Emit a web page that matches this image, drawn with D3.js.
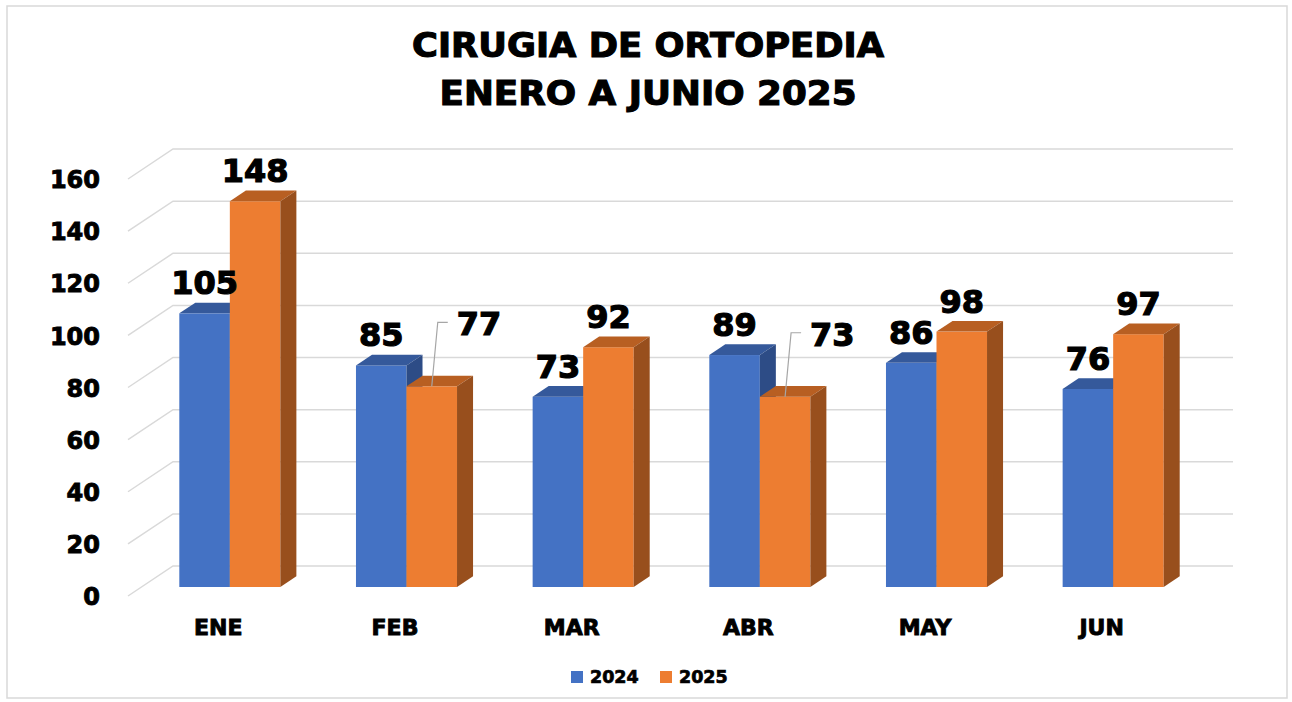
<!DOCTYPE html>
<html>
<head>
<meta charset="utf-8">
<script src="https://cdn.jsdelivr.net/npm/d3@7"></script>
<style>
  body { margin: 0; background: #fff; }
  text { font-family: 'DejaVu Sans', sans-serif; font-weight: bold; fill: #000; }
</style>
</head>
<body>
<div id="chart"></div>
<script>
var months = ['ENE', 'FEB', 'MAR', 'ABR', 'MAY', 'JUN'];
var series = ['2024', '2025'];
var values2024 = [105, 85, 73, 89, 86, 76];
var values2025 = [148, 77, 92, 73, 98, 97];
var yTicks = [0, 20, 40, 60, 80, 100, 120, 140, 160];
var titleLines = ['CIRUGIA DE ORTOPEDIA', 'ENERO A JUNIO 2025'];

var width = 1292, height = 702;
var colors = {
  '2024': { front: '#4472c4', top: '#35599b', side: '#2d4c86' },
  '2025': { front: '#ed7d31', top: '#b85f22', side: '#984f1d' }
};

// 3D depth: full floor depth offset, bar front/back depth fractions
var depthX = 45, depthY = -30;
var barT0 = 0.3, barT1 = 0.656;

var svg = d3.select('#chart').append('svg')
  .attr('width', width).attr('height', height);

svg.append('rect')
  .attr('x', 7).attr('y', 6).attr('width', 1280).attr('height', 692)
  .attr('fill', '#fff').attr('stroke', '#d9d9d9').attr('stroke-width', 1.5);

// title
svg.selectAll('.title').data(titleLines).enter().append('text')
  .attr('class', 'title')
  .attr('x', 648).attr('y', function(d, i) { return 57 + i * 48; })
  .attr('text-anchor', 'middle')
  .attr('font-size', 33)
  .attr('textLength', function(d, i) { return i === 0 ? 472 : 417; })
  .attr('lengthAdjust', 'spacingAndGlyphs')
  .style('stroke', '#000').style('stroke-width', 1.1)
  .text(function(d) { return d; });

// scales (front plane of the floor)
var x = d3.scaleBand().domain(months).range([128, 1188]).paddingInner(0.428).paddingOuter(0.214);
var xs = d3.scaleBand().domain(series).range([0, x.bandwidth()]);
// back wall
var yBack = d3.scaleLinear().domain([0, 160]).range([566, 149]);

function px(xf, t) { return xf + depthX * t; }
function py(yf, t) { return yf + depthY * t; }
function yFront(v) { return yBack(v) - depthY; }

// gridlines
var grid = svg.append('g');
yTicks.forEach(function(v) {
  var yf = yFront(v);
  grid.append('path')
    .attr('d', 'M128,' + yf + 'L' + (128 + depthX) + ',' + yBack(v) + 'H1233')
    .attr('fill', 'none').attr('stroke', '#d9d9d9').attr('stroke-width', 1.5);
});

// y axis labels
var yAxis = d3.axisLeft(d3.scaleLinear().domain([0, 160]).range([yFront(0), yFront(160)]))
  .tickValues(yTicks).tickSize(0).tickPadding(0);
var ya = svg.append('g').attr('transform', 'translate(100,0)').call(yAxis);
ya.select('.domain').remove();
ya.selectAll('text')
  .attr('font-size', 24).attr('font-family', 'DejaVu Sans').attr('font-weight', 'bold')
  .attr('dy', '0.36em')
  .style('stroke', '#000').style('stroke-width', 0.9);

// x axis labels
svg.selectAll('.xlab').data(months).enter().append('text')
  .attr('class', 'xlab')
  .attr('x', function(d) { return x(d) + x.bandwidth() / 2 + 2; })
  .attr('y', 635)
  .attr('text-anchor', 'middle').attr('font-size', 22)
  .style('stroke', '#000').style('stroke-width', 0.9)
  .text(function(d) { return d; });

// bars
var data = [];
months.forEach(function(m, i) {
  data.push({ month: m, s: '2024', v: values2024[i] });
  data.push({ month: m, s: '2025', v: values2025[i] });
});

var bars = svg.append('g');
data.forEach(function(d) {
  var x0 = x(d.month) + xs(d.s);
  var x1 = x0 + xs.bandwidth();
  var ybase = yFront(0), ytop = yFront(d.v);
  var c = colors[d.s];
  var fx0 = px(x0, barT0), fx1 = px(x1, barT0);
  var fb = py(ybase, barT0), ft = py(ytop, barT0);
  var bx1 = px(x1, barT1), bx0 = px(x0, barT1);
  var bb = py(ybase, barT1), bt = py(ytop, barT1);
  var g = bars.append('g');
  g.append('rect')
    .attr('x', fx0).attr('y', ft).attr('width', fx1 - fx0).attr('height', fb - ft)
    .attr('fill', c.front);
  g.append('path')
    .attr('d', 'M' + fx0 + ',' + ft + 'L' + bx0 + ',' + bt + 'L' + bx1 + ',' + bt + 'L' + fx1 + ',' + ft + 'Z')
    .attr('fill', c.top);
  g.append('path')
    .attr('d', 'M' + fx1 + ',' + ft + 'L' + bx1 + ',' + bt + 'L' + bx1 + ',' + bb + 'L' + fx1 + ',' + fb + 'Z')
    .attr('fill', c.side);
  d.cx = (fx0 + fx1) / 2;
  d.ft = ft;
  d.fx1 = fx1;
});

// value labels (two with leader lines)
var leaders = { 'FEB-2025': true, 'ABR-2025': true };
data.forEach(function(d) {
  var key = d.month + '-' + d.s;
  if (leaders[key]) {
    var lx = d.cx, ly = d.ft;
    var topY = d.ft - 64;
    svg.append('path')
      .attr('d', 'M' + lx + ',' + ly + 'L' + (lx + 6) + ',' + topY + 'H' + (lx + 16))
      .attr('fill', 'none').attr('stroke', '#a6a6a6').attr('stroke-width', 1.2);
    svg.append('text')
      .attr('x', lx + 25).attr('y', topY + 13)
      .attr('font-size', 32)
      .style('stroke', '#000').style('stroke-width', 1.2)
      .text(d.v);
  } else {
    svg.append('text')
      .attr('x', d.cx).attr('y', d.ft - 19)
      .attr('text-anchor', 'middle').attr('font-size', 32)
      .style('stroke', '#000').style('stroke-width', 1.2)
      .text(d.v);
  }
});

// legend
var legend = svg.append('g');
var legX = [571, 660];
series.forEach(function(s, i) {
  legend.append('rect')
    .attr('x', legX[i]).attr('y', 671).attr('width', 12).attr('height', 12)
    .attr('fill', colors[s].front);
  legend.append('text')
    .attr('x', legX[i] + 19).attr('y', 683)
    .attr('font-size', 17.5)
    .style('stroke', '#000').style('stroke-width', 0.7)
    .text(s);
});
</script>
</body>
</html>
